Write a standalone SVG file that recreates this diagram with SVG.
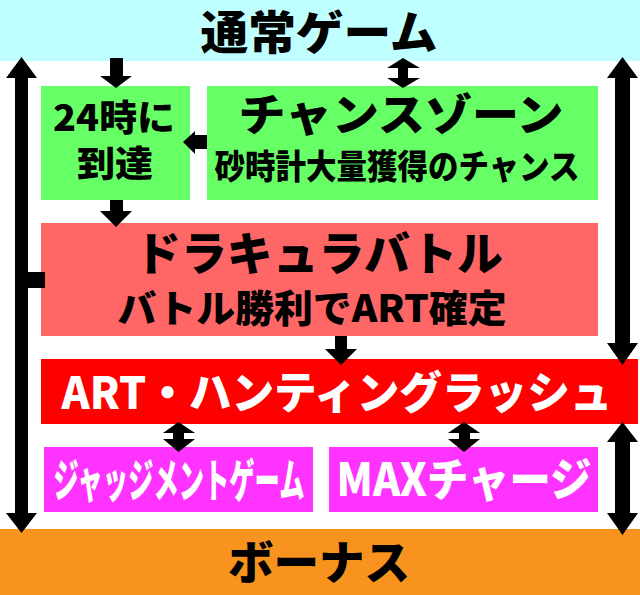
<svg xmlns="http://www.w3.org/2000/svg" width="640" height="595" viewBox="0 0 640 595">
<style>
text{font-family:"Noto Sans CJK JP","Noto Sans CJK SC",sans-serif;font-weight:900;text-anchor:middle}
.k{fill:#000}
.w{fill:#fff}
.a{fill:#000}
</style>
<rect x="0" y="0" width="640" height="595" fill="#fff"/>
<g id="normal">
<rect x="0" y="0" width="640" height="61" fill="#C0FFFF"/>
<text class="k" x="319" y="49" font-size="46" textLength="237" lengthAdjust="spacingAndGlyphs">通常ゲーム</text>
</g>
<g id="reach24">
<rect x="41" y="86" width="149" height="114" fill="#66FF66"/>
<text class="k" x="114" y="131" font-size="36" textLength="122" lengthAdjust="spacingAndGlyphs">24時に</text>
<text class="k" x="115" y="177" font-size="36" textLength="76" lengthAdjust="spacingAndGlyphs">到達</text>
</g>
<g id="chance">
<rect x="207" y="86" width="391" height="114" fill="#66FF66"/>
<text class="k" x="401" y="131" font-size="44" textLength="325" lengthAdjust="spacingAndGlyphs">チャンスゾーン</text>
<text class="k" x="397" y="179" font-size="34" textLength="365" lengthAdjust="spacingAndGlyphs">砂時計大量獲得のチャンス</text>
</g>
<g id="dracula">
<rect x="41" y="223" width="557" height="113" fill="#FF6666"/>
<text class="k" x="319" y="270" font-size="46" textLength="368" lengthAdjust="spacingAndGlyphs">ドラキュラバトル</text>
<text class="k" x="312" y="322" font-size="38" textLength="389" lengthAdjust="spacingAndGlyphs">バトル勝利でART確定</text>
</g>
<g id="art">
<rect x="41" y="359" width="597" height="65" fill="#FF0000"/>
<text class="w" x="337" y="409" font-size="44" textLength="551" lengthAdjust="spacingAndGlyphs">ART・ハンティングラッシュ</text>
</g>
<g id="judgement">
<rect x="44" y="447" width="269" height="65" fill="#FF33FF"/>
<text class="w" transform="translate(179,497) scale(0.55,1)" x="0" y="0" font-size="46">ジャッジメントゲーム</text>
</g>
<g id="maxcharge">
<rect x="329" y="447" width="269" height="65" fill="#FF33FF"/>
<text class="w" transform="translate(464,496) scale(0.9,1)" x="0" y="0" font-size="46">MAXチャージ</text>
</g>
<g id="bonus">
<rect x="0" y="529" width="640" height="66" fill="#F7931E"/>
<text class="k" x="319" y="579" font-size="46" textLength="182" lengthAdjust="spacingAndGlyphs">ボーナス</text>
</g>
<g id="connectors" class="a">
<rect x="15" y="76" width="13" height="439"/>
<polygon points="21.5,57 37,78 6,78"/>
<polygon points="6,513 37,513 21.5,533"/>
<rect x="27" y="272" width="18" height="16"/>
<rect x="615" y="76" width="15" height="269"/>
<polygon points="622.5,57 638,78 607,78"/>
<polygon points="607,343 638,343 622.5,365"/>
<rect x="615" y="440" width="15" height="75"/>
<polygon points="622.5,422 638,442 607,442"/>
<polygon points="607,513 638,513 622.5,535"/>
<rect x="110" y="58" width="13" height="19"/>
<polygon points="100,76 132,76 116,88"/>
<rect x="398" y="66" width="10" height="14"/>
<polygon points="403,58 420,68 387,68"/>
<polygon points="387,78 420,78 403,88"/>
<rect x="194" y="135" width="13" height="14"/>
<polygon points="183,142 195,131 195,154"/>
<rect x="110" y="200" width="13" height="12"/>
<polygon points="100,211 132,211 116,227"/>
<rect x="335" y="336" width="12" height="14"/>
<polygon points="325,349 357,349 341,365"/>
<rect x="173" y="431" width="11" height="10"/>
<polygon points="178.5,422 195,433 163,433"/>
<polygon points="163,439 195,439 178.5,452"/>
<rect x="459" y="431" width="11" height="10"/>
<polygon points="464,422 480,433 448,433"/>
<polygon points="448,439 480,439 464,452"/>
</g>
</svg>
